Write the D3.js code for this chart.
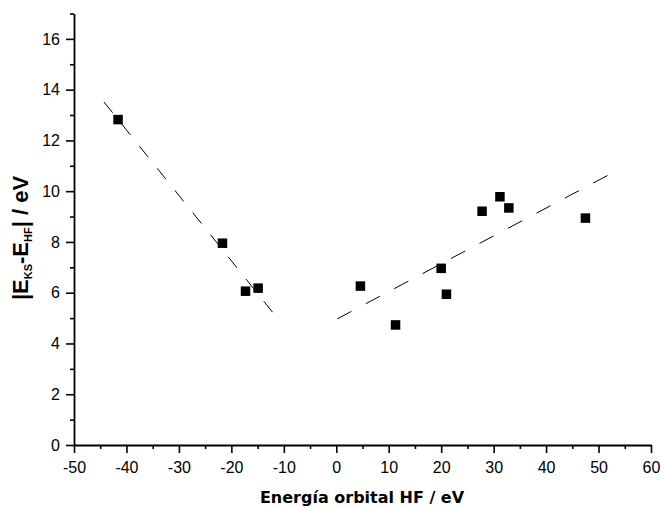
<!DOCTYPE html>
<html>
<head>
    <meta charset="utf-8">
    <script src="https://d3js.org/d3.v7.min.js"></script>
    <style>
        body { margin: 0; background: #fff; }
        .tick text { font-family: "Liberation Sans", Arial, sans-serif; font-size: 16px; fill: #000; }
    </style>
</head>
<body>
    <svg id="chart"></svg>
    <script>
        // orbital energy HF (eV) vs |E_KS - E_HF| (eV)
        const orbitalHF = [-41.6, -21.7, -17.3, -14.9, 4.6, 11.3, 20.0, 21.0, 27.8, 31.2, 32.9, 47.5];
        const deltaE = [12.82, 7.95, 6.06, 6.18, 6.26, 4.73, 6.96, 5.94, 9.21, 9.78, 9.34, 8.94];

        // dashed fit lines (end points)
        const leftFitX = [-44.3, -12.1];
        const leftFitY = [13.52, 5.22];
        const rightFitX = [0.2, 51.9];
        const rightFitY = [4.97, 10.64];

        const xMajor = d3.range(-50, 61, 10);
        const xMinor = d3.range(-45, 60, 10);
        const yMajor = d3.range(0, 17, 2);
        const yMinor = d3.range(1, 18, 2);

        const W = 662, H = 508;
        const svg = d3.select('#chart').attr('width', W).attr('height', H);

        const x = d3.scaleLinear().domain([-50, 60]).range([74, 651]);
        const y = d3.scaleLinear().domain([0, 17]).range([445, 13.5]);

        // minor ticks first
        svg.append('g')
            .attr('transform', 'translate(0,445)')
            .call(d3.axisBottom(x).tickValues(xMinor).tickSize(4).tickFormat(''))
            .call(g => g.select('.domain').remove())
            .selectAll('line').attr('stroke-width', 1.6);

        svg.append('g')
            .attr('transform', 'translate(74,0)')
            .call(d3.axisLeft(y).tickValues(yMinor).tickSize(4).tickFormat(''))
            .call(g => g.select('.domain').remove())
            .selectAll('line').attr('stroke-width', 1.6);

        // major axes
        const xAxis = svg.append('g')
            .attr('transform', 'translate(0,445)')
            .call(d3.axisBottom(x).tickValues(xMajor).tickSize(8).tickPadding(8.5)
                .tickSizeOuter(0).tickFormat(d => String(d)));
        const yAxis = svg.append('g')
            .attr('transform', 'translate(74,0)')
            .call(d3.axisLeft(y).tickValues(yMajor).tickSize(8).tickPadding(6)
                .tickSizeOuter(0).tickFormat(d => String(d)));

        [xAxis, yAxis].forEach(g => {
            g.select('.domain').attr('stroke-width', 1.8);
            g.selectAll('.tick line').attr('stroke-width', 1.6);
        });

        // dashed lines
        const line = d3.line().x(d => x(d[0])).y(d => y(d[1]));
        svg.append('path')
            .attr('d', line(d3.zip(leftFitX, leftFitY)))
            .attr('fill', 'none')
            .attr('stroke', '#000')
            .attr('stroke-width', 1)
            .attr('stroke-dasharray', '14,14.4');
        svg.append('path')
            .attr('d', line(d3.zip(rightFitX, rightFitY)))
            .attr('fill', 'none')
            .attr('stroke', '#000')
            .attr('stroke-width', 1)
            .attr('stroke-dasharray', '16,16.2');

        // square markers
        const s = 9.5;
        svg.append('g').selectAll('rect')
            .data(d3.zip(orbitalHF, deltaE))
            .join('rect')
            .attr('x', d => x(d[0]) - s / 2)
            .attr('y', d => y(d[1]) - s / 2)
            .attr('width', s)
            .attr('height', s)
            .attr('fill', '#000');

        // axis titles
        svg.append('text')
            .attr('x', 362)
            .attr('y', 503)
            .attr('text-anchor', 'middle')
            .attr('font-family', '"DejaVu Sans", sans-serif')
            .attr('font-weight', 'bold')
            .attr('font-size', '16px')
            .text('Energía orbital HF / eV');

        const yt = svg.append('text')
            .attr('transform', 'translate(27.5,238) rotate(-90)')
            .attr('text-anchor', 'middle')
            .attr('font-family', '"Liberation Sans", Arial, sans-serif')
            .attr('font-weight', 'bold')
            .attr('font-size', '22px');
        yt.append('tspan').text('|E');
        yt.append('tspan').attr('font-size', '11px').attr('dy', 4).text('KS');
        yt.append('tspan').attr('dy', -4).text('-E');
        yt.append('tspan').attr('font-size', '11px').attr('dy', 4).text('HF');
        yt.append('tspan').attr('dy', -4).text('| / eV');
    </script>
</body>
</html>
